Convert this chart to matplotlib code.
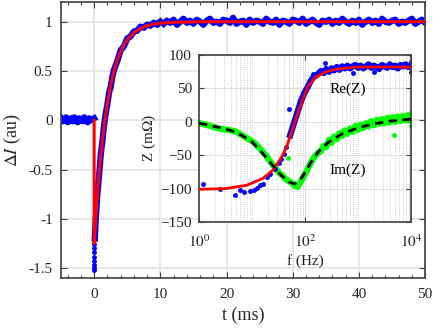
import numpy as np
import matplotlib.pyplot as plt
from matplotlib import ticker

plt.rcParams['font.family'] = ['Liberation Serif', 'DejaVu Serif']
plt.rcParams['mathtext.fontset'] = 'stix'

# ---- main trace: current step response (t in ms, dI in au)
pre_t = [-5.0, -4.75, -4.5, -4.25, -4.0, -3.75, -3.5, -3.25, -3.0, -2.75, -2.5,
         -2.25, -2.0, -1.75, -1.5, -1.25, -1.0, -0.75, -0.5, -0.25, 0.0]
pre_y = [0.02, -0.01, 0.01, 0.03, -0.02, 0.0, 0.02, -0.01, 0.03, 0.01, -0.02,
         0.02, 0.0, -0.01, 0.03, 0.01, -0.02, 0.02, 0.0, 0.01, 0.02]

spike_t = [0.03, 0.03, 0.03, 0.03, 0.03, 0.03, 0.03, 0.03]
spike_y = [-1.26, -1.30, -1.34, -1.39, -1.43, -1.47, -1.50, -1.52]

rise_t = [0.1, 0.25, 0.5, 0.75, 1.0, 1.25, 1.5, 1.75, 2.0, 2.25, 2.5, 2.75, 3.0,
          3.5, 4.0, 4.5, 5.0, 5.5, 6.0, 6.5, 7.0, 7.5, 8.0, 8.5, 9.0, 9.5, 10.0]
rise_y = [-1.20, -1.0, -0.74, -0.56, -0.35, -0.21, -0.05, 0.07, 0.16, 0.28, 0.34,
          0.44, 0.51, 0.60, 0.71, 0.75, 0.83, 0.85, 0.90, 0.91, 0.95, 0.94, 0.97,
          0.96, 0.99, 0.97, 1.00]

flat_t = np.arange(10.5, 50.01, 0.5)
flat_y = [0.98, 1.01, 0.99, 1.02, 0.97, 1.00, 1.03, 0.99, 1.01, 0.98,
          1.02, 1.00, 0.97, 1.01, 1.03, 0.99, 1.00, 0.98, 1.02, 1.01,
          0.99, 1.04, 0.98, 1.00, 1.01, 0.97, 1.02, 0.99, 1.01, 1.00,
          0.98, 1.03, 1.00, 0.99, 1.02, 0.97, 1.01, 1.00, 0.98, 1.02,
          1.01, 0.99, 1.03, 0.98, 1.00, 1.02, 0.99, 0.97, 1.01, 1.00,
          1.02, 0.98, 1.01, 0.99, 1.03, 1.00, 0.98, 1.01, 0.99, 1.02,
          0.97, 1.00, 1.02, 0.99, 1.01, 0.98, 1.03, 1.00, 0.99, 1.01,
          1.02, 0.98, 1.00, 0.99, 1.01, 1.03, 0.98, 1.00, 1.02, 0.99]

fit_t = [0, 0, 0.25, 0.5, 0.75, 1, 1.25, 1.5, 1.75, 2, 2.5, 3, 3.5, 4, 4.5, 5,
         6, 7, 8, 9, 10, 12, 14, 17, 20, 50]
fit_y = [0, -1.25, -0.985, -0.75, -0.55, -0.365, -0.205, -0.065, 0.06, 0.17,
         0.355, 0.50, 0.61, 0.695, 0.765, 0.815, 0.89, 0.93, 0.96, 0.975, 0.985,
         0.994, 0.997, 0.999, 1.0, 1.0]

# ---- inset: impedance spectrum (log10 f in Hz, Z in mOhm)
re_lf = [0.08, 0.4, 0.68, 0.77, 0.85, 0.96, 1.04, 1.09, 1.15, 1.21, 1.28, 1.34,
         1.43, 1.5, 1.55, 1.6, 1.65, 1.72, 1.76, 1.8, 1.84, 1.88, 1.92, 1.96,
         2.0, 2.05, 2.1, 2.15, 2.2, 2.25,
         2.30, 2.35, 2.40, 2.45, 2.50, 2.55, 2.60, 2.65, 2.70, 2.75, 2.80, 2.85,
         2.90, 2.95, 3.00, 3.05, 3.10, 3.15, 3.20, 3.25, 3.30, 3.35, 3.40, 3.45,
         3.50, 3.55, 3.60, 3.65, 3.70, 3.75, 3.80, 3.85, 3.90, 3.95, 4.00]
re_z = [-93, -100, -109, -102, -105, -103, -102, -99, -94, -93, -82, -78,
        -70, -62, -56, -48, -38, -20, -10, 0, 10, 20, 30, 38,
        45, 52, 60, 66, 69, 72,
        76, 73, 79, 75, 80, 77, 82, 78, 83, 80, 84, 80,
        83, 85, 81, 84, 80, 83, 86, 81, 84, 82, 79, 85,
        83, 81, 86, 82, 84, 80, 85, 83, 86, 82, 84]
re_out_lf = [1.7, 2.38, 2.9, 3.3, 4.0, 4.0, 2.15]
re_out_z = [19, 88, 73, 74, 75, 90, 72]

im_lf = [0.06, 0.38, 0.68, 0.85, 0.98, 1.05, 1.15, 1.28, 1.33, 1.38, 1.43, 1.48,
         1.52, 1.57, 1.6, 1.64, 1.68, 1.72, 1.76, 1.8, 1.83, 1.86, 1.9, 1.93,
         1.96, 2.0, 2.04, 2.08, 2.12, 2.16, 2.2, 2.25,
         2.30, 2.35, 2.40, 2.45, 2.50, 2.55, 2.60, 2.65, 2.70, 2.75, 2.80, 2.85,
         2.90, 2.95, 3.00, 3.05, 3.10, 3.15, 3.20, 3.25, 3.30, 3.35, 3.40, 3.45,
         3.50, 3.55, 3.60, 3.65, 3.70, 3.75, 3.80, 3.85, 3.90, 3.95, 4.00]
im_z = [-3, -10, -14, -22, -28, -32, -40, -52, -58, -63, -68, -73,
        -77, -80, -83, -86, -88, -90, -92, -96, -94, -97, -92, -88,
        -84, -78, -72, -66, -60, -55, -50, -46,
        -44, -36, -38, -27, -31, -22, -26, -17, -21, -13, -18, -10,
        -15, -6, -12, -4, -9, -2, -7, 1, -5, 3, -3, 4,
        -2, 6, -1, 7, 0, 8, 1, 9, 2, 10, 3]
im_out_lf = [1.68, 3.68, 4.0, 4.0]
im_out_z = [-54, -19, 14, -6]

re_fit_lf = [0, 0.5, 0.9, 1.2, 1.4, 1.55, 1.65, 1.75, 1.85, 1.95, 2.05, 2.2,
             2.4, 2.6, 3.0, 3.5, 4.0]
re_fit_z = [-101, -100, -95, -85, -72, -54, -38, -15, 10, 32, 52, 67, 75, 79,
            82, 82, 82]
im_fit_lf = [0, 0.3, 0.6, 0.8, 1.0, 1.2, 1.4, 1.55, 1.7, 1.8, 1.9, 2.0, 2.1,
             2.25, 2.45, 2.7, 3.0, 3.3, 3.6, 4.0]
im_fit_z = [-2, -7, -13, -20, -30, -47, -66, -80, -90, -93, -88, -76, -62, -45,
            -30, -18, -9, -3, 1, 4]

txt_col = '#262626'
spine_col = '#404040'

fig = plt.figure(figsize=(4.36, 3.29), dpi=100)
ax = fig.add_axes([0.140, 0.155, 0.835, 0.839])

blue = '#0000ff'
ax.plot(pre_t, pre_y, color=blue, lw=4.5, marker='.', ms=4, zorder=2)
ax.plot(rise_t, rise_y, color=blue, lw=4.5, marker='.', ms=4, zorder=2)
ax.plot(flat_t, flat_y, color=blue, lw=4.5, marker='.', ms=4, zorder=2)
ax.plot(spike_t, spike_y, ls='none', color=blue, marker='.', ms=5, zorder=2)
ax.plot(fit_t, fit_y, color='#ff0000', lw=2.2, zorder=3)

ax.set_xlim(-5, 50)
ax.set_ylim(-1.6, 1.2)
ax.set_xticks([0, 10, 20, 30, 40, 50])
ax.set_yticks([-1.5, -1, -0.5, 0, 0.5, 1])
ax.set_yticklabels(['-1.5', '-1', '-0.5', '0', '0.5', '1'])
ax.xaxis.set_minor_locator(ticker.MultipleLocator(2))
ax.grid(True, color='#e3e3e3', lw=1.2)
ax.set_axisbelow(True)
ax.tick_params(which='both', direction='in', top=True, right=True,
               colors=spine_col, labelcolor=txt_col, labelsize=11)
ax.tick_params(which='major', length=4, width=0.8)
ax.tick_params(which='minor', length=2.5, width=0.8)
ax.tick_params(axis='x', pad=7)
ax.tick_params(axis='y', pad=6)
for s in ax.spines.values():
    s.set_color(spine_col)
    s.set_linewidth(1.2)
ax.set_xlabel('t (ms)', fontsize=13, color=txt_col, labelpad=4)
ax.set_ylabel(r'$\Delta I$ (au)', fontsize=13, color=txt_col, labelpad=4)

# ---- inset
ins = fig.add_axes([0.4564, 0.3252, 0.4863, 0.5076])
ins.set_xscale('log')
ins.plot(10 ** np.array(im_lf), im_z, color='#00ff00', lw=4.5, marker='.',
         ms=4, zorder=2)
ins.plot(10 ** np.array(im_out_lf), im_out_z, ls='none', color='#00ff00',
         marker='.', ms=5, zorder=2)
ins.plot(10 ** np.array(re_lf[:17]), re_z[:17], ls='none', color=blue,
         marker='.', ms=5, zorder=2)
ins.plot(10 ** np.array(re_lf[17:]), re_z[17:], color=blue, lw=4.5, marker='.',
         ms=4, zorder=2)
ins.plot(10 ** np.array(re_out_lf), re_out_z, ls='none', color=blue,
         marker='.', ms=5, zorder=2)
ins.plot(10 ** np.array(re_fit_lf), re_fit_z, color='#ff0000', lw=2, zorder=3)
ins.plot(10 ** np.array(im_fit_lf), im_fit_z, color='black', lw=2,
         ls=(0, (3, 2)), zorder=3)

ins.set_xlim(1, 1e4)
ins.set_ylim(-150, 100)
ins.set_xticks([1, 1e2, 1e4])
ins.set_xticklabels([r'$10^0$', r'$10^2$', r'$10^4$'])
ins.xaxis.set_minor_locator(ticker.LogLocator(base=10, subs=np.arange(1, 10),
                                              numticks=30))
ins.xaxis.set_minor_formatter(ticker.NullFormatter())
ins.set_yticks([-150, -100, -50, 0, 50, 100])
ins.grid(True, which='major', color='#e0e0e0', lw=0.8)
ins.grid(True, which='minor', axis='x', color='#bdbdbd', ls=':', lw=0.6)
ins.set_axisbelow(True)
ins.tick_params(which='both', direction='in', top=True, right=True,
                colors=spine_col, labelcolor=txt_col, labelsize=11)
ins.tick_params(which='major', length=3.5, width=0.8)
ins.tick_params(which='minor', length=0)
ins.tick_params(axis='x', pad=8)
ins.tick_params(axis='y', pad=5)
for s in ins.spines.values():
    s.set_color(spine_col)
    s.set_linewidth(1.2)
ins.set_xlabel('f (Hz)', fontsize=11, color=txt_col, labelpad=3)
ins.set_ylabel(r'Z (m$\Omega$)', fontsize=11, color=txt_col, labelpad=2)
ins.text(10 ** 2.81, 49, 'Re(Z)', fontsize=11, color='black',
         ha='center', va='center')
ins.text(10 ** 2.81, -72, 'Im(Z)', fontsize=11, color='black',
         ha='center', va='center')

fig.savefig('out.png', dpi=100)
